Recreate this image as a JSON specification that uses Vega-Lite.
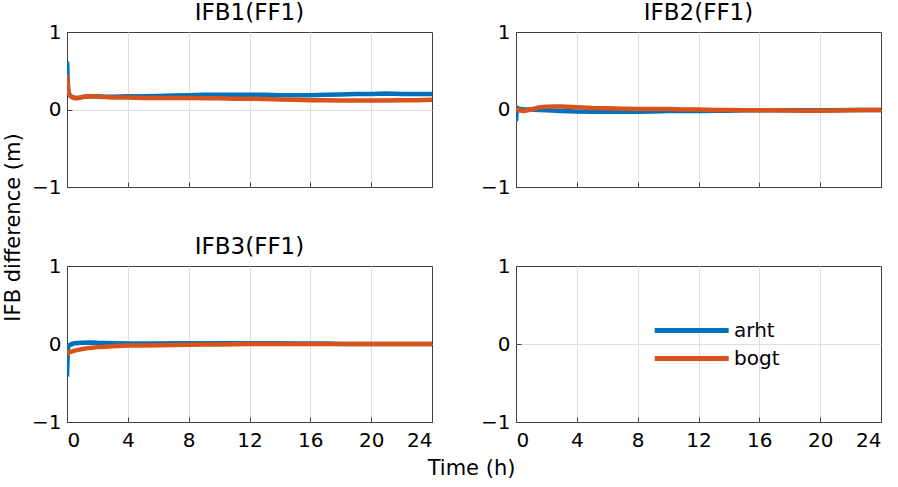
{
  "$schema": "https://vega.github.io/schema/vega-lite/v6.json",
  "background": "white",
  "padding": {"left": 2, "top": 1, "right": 1, "bottom": 4},
  "config": {
    "font": "DejaVu Sans",
    "view": {"stroke": "#404040", "strokeWidth": 1},
    "axis": {
      "grid": true, "gridColor": "#dedede", "gridWidth": 1,
      "domain": false, "ticks": true, "tickSize": -5, "tickColor": "#404040", "tickWidth": 1, "format": "d",
      "labelFont": "DejaVu Sans", "labelFontSize": 20, "labelColor": "#000000",
      "titleFont": "DejaVu Sans", "titleFontSize": 21, "titleFontWeight": "normal", "titleColor": "#000000"
    },
    "axisX": {"labelPadding": 13, "titlePadding": 7, "gridOpacity": {"condition": {"test": "datum.value <= 0 || datum.value >= 24", "value": 0}, "value": 1}},
    "axisY": {"labelPadding": 11, "titlePadding": 8, "gridOpacity": {"condition": {"test": "datum.value <= -1 || datum.value >= 1", "value": 0}, "value": 1}},
    "title": {"font": "DejaVu Sans", "fontSize": 23, "fontWeight": "normal", "color": "#000000", "offset": -3, "frame": "group"},
    "legend": {"title": null, "orient": "none", "legendX": 585, "legendY": 281, "direction": "vertical",
      "symbolType": "M-1,0H4", "symbolSize": 876, "symbolStrokeWidth": 5, "symbolOpacity": 1, "symbolFillColor": "transparent",
      "labelFont": "DejaVu Sans", "labelFontSize": 20, "labelColor": "#000000", "labelOffset": 47, "rowPadding": 0, "padding": 0}
  },
  "datasets": {
    "ifb": [
      {"panel":"IFB1","station":"arht","t":0,"v":0.62},{"panel":"IFB1","station":"arht","t":0.02,"v":0.55},{"panel":"IFB1","station":"arht","t":0.05,"v":0.35},{"panel":"IFB1","station":"arht","t":0.1,"v":0.22},{"panel":"IFB1","station":"arht","t":0.2,"v":0.18},{"panel":"IFB1","station":"arht","t":0.35,"v":0.16},{"panel":"IFB1","station":"arht","t":0.5,"v":0.15},{"panel":"IFB1","station":"arht","t":0.75,"v":0.15},{"panel":"IFB1","station":"arht","t":1,"v":0.16},{"panel":"IFB1","station":"arht","t":1.5,"v":0.17},{"panel":"IFB1","station":"arht","t":2,"v":0.17},{"panel":"IFB1","station":"arht","t":2.5,"v":0.165},{"panel":"IFB1","station":"arht","t":3,"v":0.165},{"panel":"IFB1","station":"arht","t":4,"v":0.17},{"panel":"IFB1","station":"arht","t":5,"v":0.17},{"panel":"IFB1","station":"arht","t":6,"v":0.175},{"panel":"IFB1","station":"arht","t":7,"v":0.18},{"panel":"IFB1","station":"arht","t":8,"v":0.185},{"panel":"IFB1","station":"arht","t":9,"v":0.19},{"panel":"IFB1","station":"arht","t":10,"v":0.19},{"panel":"IFB1","station":"arht","t":11,"v":0.19},{"panel":"IFB1","station":"arht","t":12,"v":0.19},{"panel":"IFB1","station":"arht","t":13,"v":0.19},{"panel":"IFB1","station":"arht","t":14,"v":0.185},{"panel":"IFB1","station":"arht","t":15,"v":0.185},{"panel":"IFB1","station":"arht","t":16,"v":0.185},{"panel":"IFB1","station":"arht","t":17,"v":0.19},{"panel":"IFB1","station":"arht","t":18,"v":0.195},{"panel":"IFB1","station":"arht","t":19,"v":0.2},{"panel":"IFB1","station":"arht","t":20,"v":0.2},{"panel":"IFB1","station":"arht","t":21,"v":0.205},{"panel":"IFB1","station":"arht","t":22,"v":0.2},{"panel":"IFB1","station":"arht","t":23,"v":0.2},{"panel":"IFB1","station":"arht","t":24,"v":0.2},
      {"panel":"IFB1","station":"bogt","t":0,"v":0.45},{"panel":"IFB1","station":"bogt","t":0.02,"v":0.38},{"panel":"IFB1","station":"bogt","t":0.05,"v":0.28},{"panel":"IFB1","station":"bogt","t":0.1,"v":0.21},{"panel":"IFB1","station":"bogt","t":0.2,"v":0.18},{"panel":"IFB1","station":"bogt","t":0.35,"v":0.16},{"panel":"IFB1","station":"bogt","t":0.5,"v":0.15},{"panel":"IFB1","station":"bogt","t":0.75,"v":0.15},{"panel":"IFB1","station":"bogt","t":1,"v":0.16},{"panel":"IFB1","station":"bogt","t":1.5,"v":0.17},{"panel":"IFB1","station":"bogt","t":2,"v":0.165},{"panel":"IFB1","station":"bogt","t":2.5,"v":0.16},{"panel":"IFB1","station":"bogt","t":3,"v":0.155},{"panel":"IFB1","station":"bogt","t":4,"v":0.155},{"panel":"IFB1","station":"bogt","t":5,"v":0.15},{"panel":"IFB1","station":"bogt","t":6,"v":0.15},{"panel":"IFB1","station":"bogt","t":7,"v":0.15},{"panel":"IFB1","station":"bogt","t":8,"v":0.15},{"panel":"IFB1","station":"bogt","t":9,"v":0.145},{"panel":"IFB1","station":"bogt","t":10,"v":0.145},{"panel":"IFB1","station":"bogt","t":11,"v":0.14},{"panel":"IFB1","station":"bogt","t":12,"v":0.14},{"panel":"IFB1","station":"bogt","t":13,"v":0.135},{"panel":"IFB1","station":"bogt","t":14,"v":0.13},{"panel":"IFB1","station":"bogt","t":15,"v":0.125},{"panel":"IFB1","station":"bogt","t":16,"v":0.12},{"panel":"IFB1","station":"bogt","t":17,"v":0.12},{"panel":"IFB1","station":"bogt","t":18,"v":0.115},{"panel":"IFB1","station":"bogt","t":19,"v":0.115},{"panel":"IFB1","station":"bogt","t":20,"v":0.115},{"panel":"IFB1","station":"bogt","t":21,"v":0.115},{"panel":"IFB1","station":"bogt","t":22,"v":0.12},{"panel":"IFB1","station":"bogt","t":23,"v":0.12},{"panel":"IFB1","station":"bogt","t":24,"v":0.125},
      {"panel":"IFB2","station":"arht","t":0,"v":-0.15},{"panel":"IFB2","station":"arht","t":0.02,"v":-0.08},{"panel":"IFB2","station":"arht","t":0.05,"v":0.0},{"panel":"IFB2","station":"arht","t":0.1,"v":0.02},{"panel":"IFB2","station":"arht","t":0.2,"v":0.01},{"panel":"IFB2","station":"arht","t":0.5,"v":0.0},{"panel":"IFB2","station":"arht","t":1,"v":0.0},{"panel":"IFB2","station":"arht","t":1.5,"v":-0.005},{"panel":"IFB2","station":"arht","t":2,"v":-0.01},{"panel":"IFB2","station":"arht","t":3,"v":-0.02},{"panel":"IFB2","station":"arht","t":4,"v":-0.025},{"panel":"IFB2","station":"arht","t":5,"v":-0.03},{"panel":"IFB2","station":"arht","t":6,"v":-0.03},{"panel":"IFB2","station":"arht","t":7,"v":-0.03},{"panel":"IFB2","station":"arht","t":8,"v":-0.03},{"panel":"IFB2","station":"arht","t":9,"v":-0.025},{"panel":"IFB2","station":"arht","t":10,"v":-0.02},{"panel":"IFB2","station":"arht","t":11,"v":-0.02},{"panel":"IFB2","station":"arht","t":12,"v":-0.02},{"panel":"IFB2","station":"arht","t":13,"v":-0.015},{"panel":"IFB2","station":"arht","t":14,"v":-0.015},{"panel":"IFB2","station":"arht","t":15,"v":-0.01},{"panel":"IFB2","station":"arht","t":16,"v":-0.01},{"panel":"IFB2","station":"arht","t":17,"v":-0.01},{"panel":"IFB2","station":"arht","t":18,"v":-0.01},{"panel":"IFB2","station":"arht","t":19,"v":-0.01},{"panel":"IFB2","station":"arht","t":20,"v":-0.01},{"panel":"IFB2","station":"arht","t":21,"v":-0.01},{"panel":"IFB2","station":"arht","t":22,"v":-0.005},{"panel":"IFB2","station":"arht","t":23,"v":-0.005},{"panel":"IFB2","station":"arht","t":24,"v":-0.005},
      {"panel":"IFB2","station":"bogt","t":0,"v":0.02},{"panel":"IFB2","station":"bogt","t":0.05,"v":0.01},{"panel":"IFB2","station":"bogt","t":0.2,"v":-0.01},{"panel":"IFB2","station":"bogt","t":0.5,"v":-0.02},{"panel":"IFB2","station":"bogt","t":1,"v":0.0},{"panel":"IFB2","station":"bogt","t":1.5,"v":0.025},{"panel":"IFB2","station":"bogt","t":2,"v":0.035},{"panel":"IFB2","station":"bogt","t":2.5,"v":0.04},{"panel":"IFB2","station":"bogt","t":3,"v":0.04},{"panel":"IFB2","station":"bogt","t":4,"v":0.03},{"panel":"IFB2","station":"bogt","t":5,"v":0.02},{"panel":"IFB2","station":"bogt","t":6,"v":0.015},{"panel":"IFB2","station":"bogt","t":7,"v":0.01},{"panel":"IFB2","station":"bogt","t":8,"v":0.005},{"panel":"IFB2","station":"bogt","t":9,"v":0.005},{"panel":"IFB2","station":"bogt","t":10,"v":0.005},{"panel":"IFB2","station":"bogt","t":11,"v":0.0},{"panel":"IFB2","station":"bogt","t":12,"v":0.0},{"panel":"IFB2","station":"bogt","t":13,"v":-0.005},{"panel":"IFB2","station":"bogt","t":14,"v":-0.005},{"panel":"IFB2","station":"bogt","t":15,"v":-0.01},{"panel":"IFB2","station":"bogt","t":16,"v":-0.01},{"panel":"IFB2","station":"bogt","t":17,"v":-0.01},{"panel":"IFB2","station":"bogt","t":18,"v":-0.012},{"panel":"IFB2","station":"bogt","t":19,"v":-0.015},{"panel":"IFB2","station":"bogt","t":20,"v":-0.015},{"panel":"IFB2","station":"bogt","t":21,"v":-0.012},{"panel":"IFB2","station":"bogt","t":22,"v":-0.01},{"panel":"IFB2","station":"bogt","t":23,"v":-0.008},{"panel":"IFB2","station":"bogt","t":24,"v":-0.005},
      {"panel":"IFB3","station":"arht","t":0,"v":-0.42},{"panel":"IFB3","station":"arht","t":0.02,"v":-0.3},{"panel":"IFB3","station":"arht","t":0.04,"v":-0.15},{"panel":"IFB3","station":"arht","t":0.07,"v":-0.06},{"panel":"IFB3","station":"arht","t":0.1,"v":-0.03},{"panel":"IFB3","station":"arht","t":0.2,"v":-0.01},{"panel":"IFB3","station":"arht","t":0.35,"v":0.0},{"panel":"IFB3","station":"arht","t":0.5,"v":0.01},{"panel":"IFB3","station":"arht","t":1,"v":0.015},{"panel":"IFB3","station":"arht","t":1.5,"v":0.02},{"panel":"IFB3","station":"arht","t":2,"v":0.015},{"panel":"IFB3","station":"arht","t":3,"v":0.01},{"panel":"IFB3","station":"arht","t":4,"v":0.005},{"panel":"IFB3","station":"arht","t":5,"v":0.005},{"panel":"IFB3","station":"arht","t":6,"v":0.005},{"panel":"IFB3","station":"arht","t":7,"v":0.01},{"panel":"IFB3","station":"arht","t":8,"v":0.01},{"panel":"IFB3","station":"arht","t":9,"v":0.01},{"panel":"IFB3","station":"arht","t":10,"v":0.01},{"panel":"IFB3","station":"arht","t":11,"v":0.01},{"panel":"IFB3","station":"arht","t":12,"v":0.01},{"panel":"IFB3","station":"arht","t":13,"v":0.01},{"panel":"IFB3","station":"arht","t":14,"v":0.01},{"panel":"IFB3","station":"arht","t":15,"v":0.005},{"panel":"IFB3","station":"arht","t":16,"v":0.005},{"panel":"IFB3","station":"arht","t":17,"v":0.005},{"panel":"IFB3","station":"arht","t":18,"v":0.0},{"panel":"IFB3","station":"arht","t":19,"v":0.0},{"panel":"IFB3","station":"arht","t":20,"v":0.0},{"panel":"IFB3","station":"arht","t":21,"v":0.0},{"panel":"IFB3","station":"arht","t":22,"v":0.0},{"panel":"IFB3","station":"arht","t":23,"v":0.0},{"panel":"IFB3","station":"arht","t":24,"v":0.0},
      {"panel":"IFB3","station":"bogt","t":0,"v":-0.13},{"panel":"IFB3","station":"bogt","t":0.1,"v":-0.11},{"panel":"IFB3","station":"bogt","t":0.25,"v":-0.1},{"panel":"IFB3","station":"bogt","t":0.5,"v":-0.085},{"panel":"IFB3","station":"bogt","t":0.75,"v":-0.075},{"panel":"IFB3","station":"bogt","t":1,"v":-0.065},{"panel":"IFB3","station":"bogt","t":1.5,"v":-0.05},{"panel":"IFB3","station":"bogt","t":2,"v":-0.04},{"panel":"IFB3","station":"bogt","t":2.5,"v":-0.035},{"panel":"IFB3","station":"bogt","t":3,"v":-0.03},{"panel":"IFB3","station":"bogt","t":4,"v":-0.02},{"panel":"IFB3","station":"bogt","t":5,"v":-0.018},{"panel":"IFB3","station":"bogt","t":6,"v":-0.015},{"panel":"IFB3","station":"bogt","t":7,"v":-0.012},{"panel":"IFB3","station":"bogt","t":8,"v":-0.01},{"panel":"IFB3","station":"bogt","t":9,"v":-0.007},{"panel":"IFB3","station":"bogt","t":10,"v":-0.005},{"panel":"IFB3","station":"bogt","t":11,"v":-0.002},{"panel":"IFB3","station":"bogt","t":12,"v":0.0},{"panel":"IFB3","station":"bogt","t":13,"v":0.0},{"panel":"IFB3","station":"bogt","t":14,"v":0.0},{"panel":"IFB3","station":"bogt","t":15,"v":0.0},{"panel":"IFB3","station":"bogt","t":16,"v":0.0},{"panel":"IFB3","station":"bogt","t":17,"v":0.0},{"panel":"IFB3","station":"bogt","t":18,"v":0.0},{"panel":"IFB3","station":"bogt","t":19,"v":0.0},{"panel":"IFB3","station":"bogt","t":20,"v":0.0},{"panel":"IFB3","station":"bogt","t":21,"v":0.0},{"panel":"IFB3","station":"bogt","t":22,"v":0.0},{"panel":"IFB3","station":"bogt","t":23,"v":0.0},{"panel":"IFB3","station":"bogt","t":24,"v":0.0}
    ]
  },
  "columns": 2,
  "spacing": {"row": 79, "column": 84},
  "bounds": "flush",
  "resolve": {"scale": {"color": "shared"}, "legend": {"color": "shared"}},
  "concat": [
    {
      "title": "IFB1(FF1)",
      "width": 365, "height": 155,
      "data": {"name": "ifb"},
      "transform": [{"filter": "datum.panel == 'IFB1'"}],
      "mark": {"type": "line", "strokeWidth": 4.5, "clip": true},
      "encoding": {
        "x": {"field": "t", "type": "quantitative", "scale": {"domain": [0, 24], "nice": false}, "axis": {"values": [0, 4, 8, 12, 16, 20, 24], "labels": false, "title": null}},
        "y": {"field": "v", "type": "quantitative", "scale": {"domain": [-1, 1], "nice": false}, "axis": {"values": [-1, 0, 1], "title": "IFB difference (m)", "titleY": 195}},
        "color": {"field": "station", "type": "nominal", "scale": {"domain": ["arht", "bogt"], "range": ["#0072BD", "#D95319"]}}
      }
    },
    {
      "title": "IFB2(FF1)",
      "width": 365, "height": 155,
      "data": {"name": "ifb"},
      "transform": [{"filter": "datum.panel == 'IFB2'"}],
      "mark": {"type": "line", "strokeWidth": 4.5, "clip": true},
      "encoding": {
        "x": {"field": "t", "type": "quantitative", "scale": {"domain": [0, 24], "nice": false}, "axis": {"values": [0, 4, 8, 12, 16, 20, 24], "labels": false, "title": null}},
        "y": {"field": "v", "type": "quantitative", "scale": {"domain": [-1, 1], "nice": false}, "axis": {"values": [-1, 0, 1], "title": null}},
        "color": {"field": "station", "type": "nominal", "scale": {"domain": ["arht", "bogt"], "range": ["#0072BD", "#D95319"]}}
      }
    },
    {
      "title": "IFB3(FF1)",
      "width": 365, "height": 156,
      "data": {"name": "ifb"},
      "transform": [{"filter": "datum.panel == 'IFB3'"}],
      "mark": {"type": "line", "strokeWidth": 4.5, "clip": true},
      "encoding": {
        "x": {"field": "t", "type": "quantitative", "scale": {"domain": [0, 24], "nice": false}, "axis": {"values": [0, 4, 8, 12, 16, 20, 24], "title": "Time (h)", "titleX": 404}},
        "y": {"field": "v", "type": "quantitative", "scale": {"domain": [-1, 1], "nice": false}, "axis": {"values": [-1, 0, 1], "title": null}},
        "color": {"field": "station", "type": "nominal", "scale": {"domain": ["arht", "bogt"], "range": ["#0072BD", "#D95319"]}}
      }
    },
    {
      "width": 365, "height": 156,
      "data": {"name": "ifb"},
      "transform": [{"filter": "datum.panel == 'none'"}],
      "mark": {"type": "line", "strokeWidth": 4.5, "clip": true},
      "encoding": {
        "x": {"field": "t", "type": "quantitative", "scale": {"domain": [0, 24], "nice": false}, "axis": {"values": [0, 4, 8, 12, 16, 20, 24], "title": null}},
        "y": {"field": "v", "type": "quantitative", "scale": {"domain": [-1, 1], "nice": false}, "axis": {"values": [-1, 0, 1], "title": null}},
        "color": {"field": "station", "type": "nominal", "scale": {"domain": ["arht", "bogt"], "range": ["#0072BD", "#D95319"]}}
      }
    }
  ]
}
